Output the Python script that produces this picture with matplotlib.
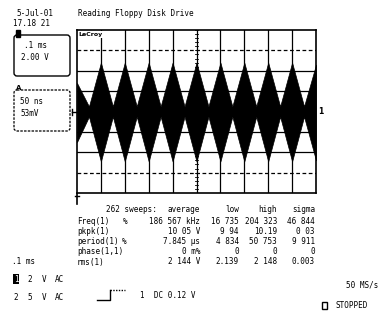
import matplotlib
matplotlib.use("Agg")
import matplotlib.pyplot as plt
import numpy as np
from matplotlib.patches import FancyBboxPatch, Rectangle

# envelope of the trace, read at every half division
env_x = [0, 0.5, 1, 1.5, 2, 2.5, 3, 3.5, 4, 4.5, 5, 5.5, 6, 6.5, 7, 7.5, 8, 8.5, 9, 9.5, 10]
env_top = [1.4, 0.25, 2.4, 0.25, 2.4, 0.25, 2.4, 0.25, 2.4, 0.25, 2.4, 0.25, 2.4, 0.25, 2.4, 0.25, 2.4, 0.25, 2.4, 0.25, 2.3]
env_bot = [-1.5, -0.25, -2.45, -0.25, -2.45, -0.25, -2.45, -0.25, -2.45, -0.25, -2.45, -0.25, -2.45, -0.25, -2.45, -0.25, -2.45, -0.25, -2.45, -0.25, -2.4]

# measurement table
stat_cols = ["average", "low", "high", "sigma"]
stat_rows = ["Freq(1)", "pkpk(1)", "period(1)", "phase(1,1)", "rms(1)"]
stat_flag = ["%", "", "%", "", ""]
stat_vals = [
    ["186 567 kHz", "16 735", "204 323", "46 844"],
    ["10 05 V", "9 94", "10.19", "0 03"],
    ["7.845 µs", "4 834", "50 753", "9 911"],
    ["0 m%", "0", "0", "0"],
    ["2 144 V", "2.139", "2 148", "0.003"],
]
sweeps = "262 sweeps:"

W, H = 383, 314
fig = plt.figure(figsize=(W / 100, H / 100), dpi=100)
bg = fig.add_axes([0, 0, 1, 1])
bg.set_xlim(0, W)
bg.set_ylim(H, 0)
bg.axis("off")

fnt = dict(family="DejaVu Sans Mono", fontsize=5.5, color="black")

# ---- grid area
gl, gr, gt, gb = 77, 316, 30, 193
ax = fig.add_axes([gl / W, (H - gb) / H, (gr - gl) / W, (gb - gt) / H])
ax.set_xlim(0, 10)
ax.set_ylim(-4, 4)
ax.set_xticks([])
ax.set_yticks([])
for s in ax.spines.values():
    s.set_linewidth(1.2)
for xv in range(1, 10):
    ax.axvline(xv, color="black", lw=0.9)
for yv in range(-3, 4):
    ls = (0, (3, 2)) if yv in (3, -3) else "-"
    ax.axhline(yv, color="black", lw=0.9, linestyle=ls)
# small ticks on centre line
for t in np.arange(-4, 4.01, 0.2):
    ax.plot([4.92, 5.08], [t, t], color="black", lw=0.6)

ax.fill_between(env_x, env_top, env_bot, color="black", lw=0.5, edgecolor="black")
ax.text(0.05, 3.9, "LeCroy", ha="left", va="top", fontsize=4.5, fontweight="bold",
        family="DejaVu Sans", bbox=dict(facecolor="white", edgecolor="none", pad=0.5))

# ---- header
bg.text(16, 13, "5-Jul-01", va="center", **fnt)
bg.text(13, 24, "17.18 21", va="center", **fnt)
bg.text(78, 14, "Reading Floppy Disk Drive", va="center", **fnt)

# ---- boxes on the left
bg.add_patch(FancyBboxPatch((14, 35), 56, 41, boxstyle="round,pad=0,rounding_size=3",
                            fill=False, lw=1.0, ec="black"))
bg.add_patch(Rectangle((16, 30), 4, 7, color="black"))
bg.text(24, 46, ".1 ms", va="center", **fnt)
bg.text(21, 57, "2.00 V", va="center", **fnt)

bg.add_patch(FancyBboxPatch((14, 90), 56, 41, boxstyle="round,pad=0,rounding_size=3",
                            fill=False, lw=0.9, ec="black", linestyle=(0, (2, 1))))
bg.text(16, 88, "A", va="center", fontsize=5, family="DejaVu Sans", fontweight="bold")
bg.text(20, 101, "50 ns", va="center", **fnt)
bg.text(20, 113, "53mV", va="center", **fnt)

# ground markers
bg.plot([72, 77], [112, 112], color="black", lw=1)
bg.plot([72, 72], [109, 115], color="black", lw=1)
bg.text(318, 112, "1", va="center", ha="left", fontsize=5.5, family="DejaVu Sans", fontweight="bold")
# trigger marker
bg.plot([77, 77], [194, 204], color="black", lw=1.2)
bg.plot([75, 79], [196, 196], color="black", lw=1)

# ---- measurement table
rows_y = [210, 221, 231, 241, 252, 262]
col_r = [200, 239, 277, 315]
flag_x = [123, 0, 122, 0, 0]
bg.text(157, rows_y[0], sweeps, ha="right", va="center", **fnt)
for c, name in enumerate(stat_cols):
    bg.text(col_r[c], rows_y[0], name, ha="right", va="center", **fnt)
for r, name in enumerate(stat_rows):
    y = rows_y[r + 1]
    bg.text(77, y, name, ha="left", va="center", **fnt)
    if stat_flag[r]:
        bg.text(flag_x[r], y, stat_flag[r], ha="left", va="center", **fnt)
    for c in range(4):
        bg.text(col_r[c], y, stat_vals[r][c], ha="right", va="center", **fnt)

# ---- channel settings
bg.text(12, 262, ".1 ms", va="center", **fnt)
bg.text(14, 279, "1", va="center", color="white", family="DejaVu Sans Mono", fontsize=5.5,
        bbox=dict(facecolor="black", edgecolor="none", pad=0.6))
for x, t in zip([27, 42, 55], ["2", "V", "AC"]):
    bg.text(x, 279, t, va="center", **fnt)
for x, t in zip([13, 27, 42, 55], ["2", "5", "V", "AC"]):
    bg.text(x, 297, t, va="center", **fnt)
bg.plot([97, 110, 110], [300, 300, 290], color="black", lw=1)
bg.plot([110, 125], [290, 290], color="black", lw=1, linestyle=(0, (1, 1)))
bg.text(140, 296, "1  DC 0.12 V", va="center", **fnt)
bg.text(378, 285, "50 MS/s", ha="right", va="center", **fnt)
bg.add_patch(Rectangle((322, 302), 5, 7, fill=False, lw=1, ec="black"))
bg.text(336, 306, "STOPPED", va="center", **fnt)

fig.savefig("out.png", dpi=100, facecolor="white")
